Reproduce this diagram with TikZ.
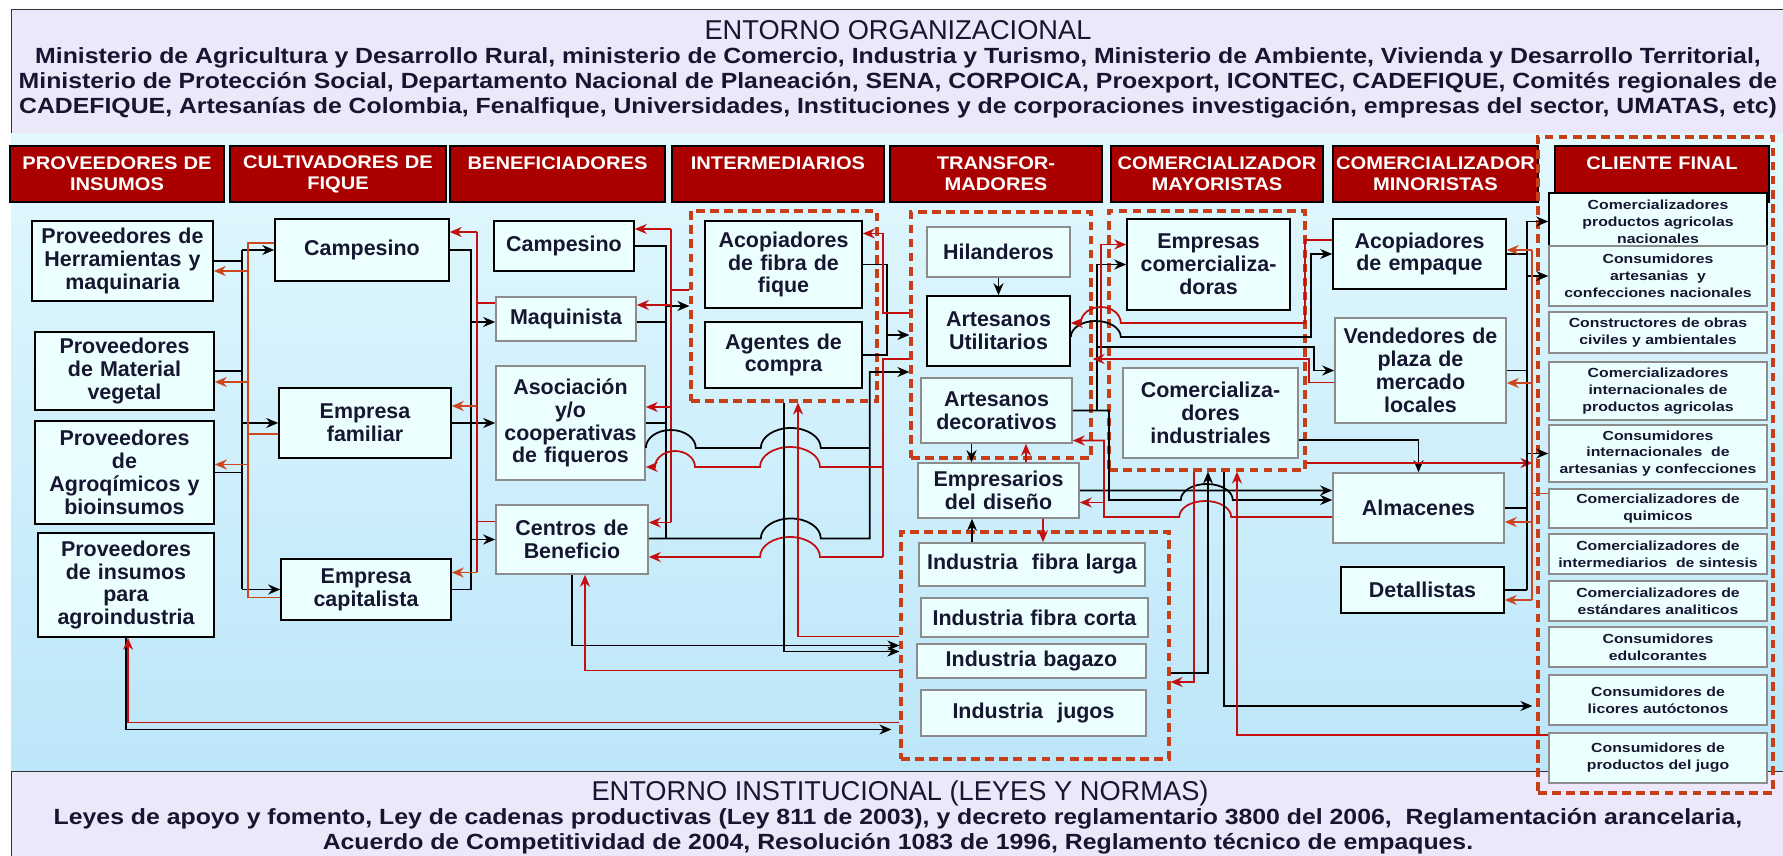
\documentclass[tikz,border=0pt]{standalone}
\usepackage{fontspec}
\setmainfont{Liberation Sans}
\newfontfamily\widefont[FakeStretch=1.2]{Liberation Sans}
\newfontfamily\hdrfont[FakeStretch=1.1]{Liberation Sans}
\newfontfamily\panelfont[FakeStretch=1.13]{Liberation Sans}
\usetikzlibrary{positioning,arrows.meta,calc}

\definecolor{panelbg}{RGB}{236,232,250}
\definecolor{skytop}{RGB}{226,248,253}
\definecolor{skybot}{RGB}{188,230,249}
\definecolor{hdrred}{RGB}{170,0,0}
\definecolor{boxbg}{RGB}{236,255,255}
\definecolor{dashred}{RGB}{200,62,22}
\definecolor{lnred}{RGB}{195,15,15}
\definecolor{lnorange}{RGB}{205,70,30}
\definecolor{txt}{RGB}{22,22,48}

\begin{document}
\begin{tikzpicture}[
  x=0.2mm, y=-0.2mm,
  box/.style  = {draw, line width=0.9pt, fill=boxbg, align=center, inner xsep=0pt, inner ysep=1pt,
                 text=txt, font=\fontsize{12.2}{13}\selectfont\bfseries},
  gbox/.style = {box, draw=black!45},
  fbox/.style = {gbox, text width=43.6mm, font=\widefont\fontsize{7.5}{9.6}\selectfont\bfseries},
  hdr/.style  = {draw=black, line width=1.6pt, fill=hdrred, text=white, align=center, inner xsep=0pt,
                 minimum height=11.2mm, font=\hdrfont\fontsize{10.4}{12}\selectfont\bfseries},
  grp/.style  = {draw=dashred, line width=1.8pt, dash pattern=on 5pt off 3pt, inner sep=0pt},
  ln/.style   = {line width=1pt, black},
  arr/.style  = {ln, -{Stealth[length=2.4mm,width=2mm]}},
  rln/.style  = {line width=1pt, lnred},
  rarr/.style = {rln, -{Stealth[length=2.4mm,width=2mm]}},
  oln/.style  = {line width=1pt, lnorange},
  oarr/.style = {oln, -{Stealth[length=2.4mm,width=2mm]}},
  ttl/.style  = {text=txt, font=\fontsize{15.5}{17}\selectfont},
  body/.style = {text=txt, align=center, font=\panelfont\fontsize{12.5}{14.2}\selectfont\bfseries}
]
\useasboundingbox (0,0) rectangle (1783,856);

% ================= backgrounds =================
\fill[white] (0,0) rectangle (1783,856);
\draw[fill=panelbg, draw=black!80] (11,9) rectangle (1800,134);
\shade[top color=skytop, bottom color=skybot] (11,134) rectangle (1783,771);
\draw[fill=panelbg, draw=black!80] (11,771) rectangle (1800,870);

\node[ttl]  (orgt) at (898,30) {ENTORNO ORGANIZACIONAL};
\node[body] (orgx) at (898,82.5) {Ministerio de Agricultura y Desarrollo Rural, ministerio de Comercio, Industria y Turismo, Ministerio de Ambiente, Vivienda y Desarrollo Territorial,\\
  Ministerio de Protección Social, Departamento Nacional de Planeación, SENA, CORPOICA, Proexport, ICONTEC, CADEFIQUE, Comités regionales de\\
  CADEFIQUE, Artesanías de Colombia, Fenalfique, Universidades, Instituciones y de corporaciones investigación, empresas del sector, UMATAS, etc)};
\node[ttl]  (inst) at (900,793) {ENTORNO INSTITUCIONAL (LEYES Y NORMAS)};
\node[body] (instx) at (898,831.5) {Leyes de apoyo y fomento, Ley de cadenas productivas (Ley 811 de 2003), y decreto reglamentario 3800 del 2006,\ \ Reglamentación arancelaria,\\
  Acuerdo de Competitividad de 2004, Resolución 1083 de 1996, Reglamento técnico de empaques.};

% ================= headers =================
\node[hdr, text width=42.8mm] (h1) at (117,174)    {PROVEEDORES DE\\INSUMOS};
\node[hdr, text width=43.2mm] (h2) at (338,174)    {CULTIVADORES DE\\FIQUE};
\node[hdr, text width=43mm]   (h3) at (557.5,174)  {BENEFICIADORES\\\mbox{}};
\node[hdr, text width=42.4mm] (h4) at (778,174)    {INTERMEDIARIOS\\\mbox{}};
\node[hdr, text width=42.4mm] (h5) at (996,174)    {TRANSFOR-\\MADORES};
\node[hdr, text width=42.4mm] (h6) at (1217,174)   {COMERCIALIZADOR\\MAYORISTAS};
\node[hdr, text width=41mm]   (h7) at (1435.5,174) {COMERCIALIZADOR\\MINORISTAS};

% ================= dashed groups =================
\node[grp, minimum width=37.2mm, minimum height=38mm]    (gi)   at (784,306)    {};
\node[grp, minimum width=36mm,   minimum height=49.2mm]  (gt)   at (1001,335)   {};
\node[grp, minimum width=53.6mm, minimum height=45.4mm]  (gind) at (1035,645.5) {};
\node[grp, minimum width=39.2mm, minimum height=51.8mm]  (gm)   at (1207,340.5) {};
\node[grp, minimum width=47mm,   minimum height=131.2mm] (gf)   at (1655.5,465) {};
\node[hdr, text width=42.8mm] (h8) at (1662,174)   {CLIENTE FINAL\\\mbox{}};

% ================= proveedores / cultivadores / beneficiadores =================
\node[box, text width=36.2mm, minimum height=16mm]   (p1) at (122.5,261)   {Proveedores de\\Herramientas y\\maquinaria};
\node[box, text width=35.8mm, minimum height=15.6mm] (p2) at (124.5,371)   {Proveedores\\de Material\\vegetal};
\node[box, text width=35.8mm, minimum height=20.6mm] (p3) at (124.5,472.5) {Proveedores\\de\\Agroqímicos y\\bioinsumos};
\node[box, text width=35.2mm, minimum height=20.8mm] (p4) at (126,585)     {Proveedores\\de insumos\\para\\agroindustria};

\node[box, text width=34.8mm, minimum height=12.4mm] (c1) at (362,250)   {Campesino};
\node[box, text width=34.4mm, minimum height=14mm]   (c2) at (365,423)   {Empresa\\familiar};
\node[box, text width=34mm,   minimum height=12.2mm] (c3) at (366,589.5) {Empresa\\capitalista};

\node[box,  text width=28mm,   minimum height=10mm]   (b1) at (564,246)   {Campesino};
\node[gbox, text width=28mm,   minimum height=8.8mm]  (b2) at (566,319)   {Maquinista};
\node[gbox, text width=29.8mm, minimum height=22.8mm] (b3) at (570.5,423) {Asociación\\y/o\\cooperativas\\de fiqueros};
\node[gbox, text width=30.4mm, minimum height=13.8mm] (b4) at (572,539.5) {Centros de\\Beneficio};

% ================= intermediarios / transformadores =================
\node[box, text width=31.4mm, minimum height=17.4mm] (i1) at (783.5,264.5) {Acopiadores\\de fibra de\\fique};
\node[box, text width=31.4mm, minimum height=13.2mm] (i2) at (783.5,355)   {Agentes de\\compra};

\node[gbox, text width=28.6mm, minimum height=10mm]  (t1) at (998.5,252)   {Hilanderos};
\node[box,  text width=28.6mm, minimum height=14mm]  (t2) at (998.5,331)   {Artesanos\\Utilitarios};
\node[gbox, text width=30.2mm, minimum height=13mm]  (t3) at (996.5,410.5) {Artesanos\\decorativos};
\node[gbox, text width=32.2mm, minimum height=11mm]  (t4) at (998.5,490.5) {Empresarios\\del diseño};
\node[gbox, text width=45.2mm, minimum height=8.6mm] (t5) at (1032,564.5)  {Industria\ \ fibra larga};
\node[gbox, text width=45.4mm, minimum height=7.8mm] (t6) at (1034.5,617.5) {Industria fibra corta};
\node[gbox, text width=45.8mm, minimum height=6.8mm] (t7) at (1031.5,661)  {Industria bagazo};
\node[gbox, text width=45mm,   minimum height=9.2mm] (t8) at (1033.5,713)  {Industria\ \ jugos};

% ================= comercializadores =================
\node[box,  text width=32.6mm, minimum height=18.2mm] (m1) at (1208.5,264.5) {Empresas\\comercializa-\\doras};
\node[gbox, text width=35mm,   minimum height=18mm]   (m2) at (1210.5,413)   {Comercializa-\\dores\\industriales};

\node[box,  text width=34.6mm, minimum height=14mm]  (n1) at (1419.5,254)   {Acopiadores\\de empaque};
\node[gbox, text width=34.2mm, minimum height=21mm]  (n2) at (1420.5,370.5) {Vendedores de\\plaza de\\mercado\\locales};
\node[gbox, text width=34.2mm, minimum height=14mm]  (n3) at (1418.5,508)   {Almacenes};
\node[box,  text width=32.6mm, minimum height=9.2mm] (n4) at (1422.5,590)   {Detallistas};

% ================= cliente final =================
\node[fbox, draw=black, minimum height=11.4mm] (f1) at (1658,221.5) {Comercializadores\\productos agricolas\\nacionales};
\node[fbox, minimum height=12mm]   (f2)  at (1658,276)   {Consumidores\\artesanias\ \ y\\confecciones nacionales};
\node[fbox, minimum height=8.2mm]  (f3)  at (1658,332.5) {Constructores de obras\\civiles y ambientales};
\node[fbox, minimum height=11.6mm] (f4)  at (1658,391)   {Comercializadores\\internacionales de\\productos agricolas};
\node[fbox, minimum height=11.4mm] (f5)  at (1658,453.5) {Consumidores\\internacionales\ \ de\\artesanias y confecciones};
\node[fbox, minimum height=7.8mm]  (f6)  at (1658,508.5) {Comercializadores de\\quimicos};
\node[fbox, minimum height=8mm]    (f7)  at (1658,554)   {Comercializadores de\\intermediarios\ \ de sintesis};
\node[fbox, minimum height=8mm]    (f8)  at (1658,601)   {Comercializadores de\\estándares analiticos};
\node[fbox, minimum height=8mm]    (f9)  at (1658,647)   {Consumidores\\edulcorantes};
\node[fbox, minimum height=10mm]   (f10) at (1658,700)   {Consumidores de\\licores autóctonos};
\node[fbox, minimum height=10mm]   (f11) at (1658,758)   {Consumidores de\\productos del jugo};

% bus lines
\coordinate (ka) at (242,0);  \coordinate (ra) at (248,0);
\coordinate (kb) at (471,0);  \coordinate (rb) at (477,0);
\coordinate (kc) at (666,0);  \coordinate (rc) at (671,0);
\coordinate (kd) at (887,0);  \coordinate (rd) at (883,0);
\coordinate (kf) at (1097,0); \coordinate (rf) at (1101,0);
\coordinate (kg) at (1109,0); \coordinate (rg) at (1104,0);
\coordinate (ki) at (1311,0); \coordinate (ri) at (1305,0);
\coordinate (kh) at (1314,0); \coordinate (rh) at (1309,0);
\coordinate (kj) at (1527,0); \coordinate (rj) at (1532,0);

% ---- proveedores <-> cultivadores
\draw[ln] (p1.east) -- (ka |- p1.east);
\draw[ln] (p2.east) -- (ka |- p2.east);
\draw[ln] (p3.east) -- (ka |- p3.east);
\draw[ln] (ka |- c1.west) -- (ka |- c3.west);
\draw[arr] (ka |- c1.west) -- (c1.west);
\draw[arr] (ka |- c2.west) -- (c2.west);
\draw[arr] (ka |- c3.west) -- (c3.west);
\draw[oln] ($(c1.west)+(0,-7)$) -- ($(ra |- c1.west)+(0,-7)$) -- ($(ra |- c3.west)+(0,8)$) -- ($(c3.west)+(0,8)$);
\draw[oln] ($(c2.west)+(0,11)$) -- ($(ra |- c2.west)+(0,11)$);
\draw[oarr] ($(ra |- p1.east)+(0,10)$) -- ($(p1.east)+(0,10)$);
\draw[oarr] ($(ra |- p2.east)+(0,11)$) -- ($(p2.east)+(0,11)$);
\draw[oarr] ($(ra |- p3.east)+(0,-8)$) -- ($(p3.east)+(0,-8)$);

% ---- cultivadores <-> beneficiadores
\draw[ln] (c1.east) -- (kb |- c1.east) -- (kb |- c3.east) -- (c3.east);
\draw[arr] (c2.east) -- (b3.west);
\draw[arr] ($(kb |- b2.west)+(0,3)$) -- ($(b2.west)+(0,3)$);
\draw[arr] (kb |- b4.west) -- (b4.west);
\draw[rln] ($(rb |- c1.east)+(0,-18)$) -- ($(rb |- c3.east)+(0,-17)$);
\draw[rln] ($(b2.west)+(0,-16)$) -- ($(rb |- b2.west)+(0,-16)$);
\draw[rln] ($(b4.west)+(0,-18)$) -- ($(rb |- b4.west)+(0,-18)$);
\draw[rarr] ($(rb |- c1.east)+(0,-18)$) -- ($(c1.east)+(0,-18)$);
\draw[oarr] ($(rb |- c2.east)+(0,-17)$) -- ($(c2.east)+(0,-17)$);
\draw[oarr] ($(rb |- c3.east)+(0,-17)$) -- ($(c3.east)+(0,-17)$);

% ---- beneficiadores <-> intermediarios
\draw[ln] (b1.east) -- (kc |- b1.east) -- ($(kc |- b4.east)+(0,-1)$);
\draw[ln] ($(b2.east)+(0,3)$) -- ($(kc |- b2.east)+(0,3)$);
\draw[ln] (b3.east) -- (kc |- b3.east);
\draw[arr] (kc |- gi.west) -- (gi.west);
\draw[rln] ($(rc |- b1.east)+(0,-17)$) -- ($(rc |- b4.east)+(0,-17)$);
\draw[rln] ($(gi.west)+(0,-16)$) -- ($(rc |- gi.west)+(0,-16)$);
\draw[rarr] ($(rc |- b1.east)+(0,-17)$) -- ($(b1.east)+(0,-17)$);
\draw[rarr] ($(rc |- b2.east)+(0,-14)$) -- ($(b2.east)+(0,-14)$);
\draw[rarr] ($(rc |- b3.east)+(0,-16)$) -- ($(b3.east)+(0,-16)$);
\draw[rarr] ($(rc |- b4.east)+(0,-17)$) -- ($(b4.east)+(0,-17)$);

% ---- intermediarios <-> transformadores
\draw[ln] (i1.east) -- (kd |- i1.east) -- (kd |- i2.east) -- (i2.east);
\draw[arr] (kd |- gt.west) -- (gt.west);
\draw[rarr] ($(gt.west)+(0,-22)$) -- ($(rd |- gt.west)+(0,-22)$) -- ($(rd |- i1.east)+(0,-31)$) -- ($(i1.east)+(0,-31)$);

% ---- beneficiadores <-> transformadores (line jumps)
\draw[arr] ($(b3.east)+(0,25)$) arc[start angle=180,end angle=360,x radius=25,y radius=18] -- ++(65,0)
  arc[start angle=180,end angle=360,x radius=30,y radius=20] -- ++(49,0) |- ($(gt.west)+(0,37)$);
\draw[ln] ($(b4.east)+(0,-1)$) -- ++(112,0) arc[start angle=180,end angle=360,x radius=30,y radius=20] -- ++(49,0) -- ++(0,-90);
\draw[rln] ($(gt.west)+(0,24)$) -- ($(rd |- gt.west)+(0,24)$) -- ($(rd |- b4.east)+(0,17.5)$);
\draw[rarr] ($(rd |- b3.east)+(0,44)$) -- ++(-63,0) arc[start angle=0,end angle=-180,x radius=30,y radius=20] -- ++(-65,0)
  arc[start angle=0,end angle=-180,x radius=20,y radius=16] -- ($(b3.east)+(0,44)$);
\draw[rarr] ($(rd |- b4.east)+(0,17.5)$) -- ++(-63,0) arc[start angle=0,end angle=-180,x radius=30,y radius=20] -- ($(b4.east)+(0,17.5)$);

% ---- towards the industries
\draw[arr] (gi.south) |- ($(gind.west)+(0,6)$);
\draw[rarr] ($(gind.west)+(0,-9)$) -| ($(gi.south)+(14,0)$);
\draw[arr] (b4.south) |- (gind.west);
\draw[rarr] ($(gind.west)+(0,25)$) -| ($(b4.south)+(13,0)$);
\draw[arr] (p4.south) |- ($(gind.west)+(-8,84)$);
\draw[rarr] ($(gind.west)+(0,77)$) -| ($(p4.south)+(2,0)$);

% ---- inside transformadores
\draw[arr] (t1) -- (t2);
\draw[arr] ($(t3.south)+(-25,0)$) -- ($(t4.north)+(-27,0)$);
\draw[rarr] ($(t4.north)+(27.5,0)$) -- ($(t3.south)+(29.5,0)$);
\draw[arr] ($(t5.north)+(-60,0)$) -- ($(t4.south)+(-26.5,0)$);
\draw[rarr] ($(t4.south)+(44.5,0)$) -- ($(t5.north)+(11,0)$);

% ---- transformadores <-> comercializadores
\draw[arr] (t3.east) -- (kf |- t3.east) |- (m1.west);
\draw[arr] ($(kf |- t2.east)+(0,16)$) -| (kh |- n2.west) -- (n2.west);
\draw[rarr] ($(n2.west)+(0,12)$) -- ($(rh |- n2.west)+(0,12)$) |- ($(rf |- gt.east)+(0,24)$) |- ($(m1.west)+(0,-20)$);
\draw[rarr] ($(rf |- gt.east)+(0,24)$) -- ($(gt.east)+(0,24)$);
\draw[arr] ($(t2.east)+(0,6)$) arc[start angle=180,end angle=360,x radius=25,y radius=16] -| (ki |- n1.west) -- (n1.west);
\draw[rarr] ($(n1.west)+(0,-14)$) -- ($(ri |- n1.west)+(0,-14)$) |- ($(t2.east)+(50,-8)$)
  arc[start angle=0,end angle=-180,x radius=20,y radius=16] -- ($(t2.east)+(0,-8)$);
\draw[arr] (t4.east) -- ($(n3.west)+(0,-17.5)$);
\draw[arr] (t3.east) -- (kg |- t3.east) |- ($(t4.east)+(101,9.5)$)
  arc[start angle=180,end angle=360,x radius=26,y radius=16] -- ($(n3.west)+(0,-8)$);
\draw[rarr] ($(n3.west)+(0,9)$) -- ++(-101,0) arc[start angle=0,end angle=-180,x radius=26,y radius=16]
  -- ($(rg |- n3.west)+(0,9)$) |- ($(t3.east)+(0,30)$);
\draw[rarr] ($(rg |- t4.east)+(0,12)$) -- ($(t4.east)+(0,12)$);

% ---- under comercializadores industriales
\draw[rarr] ($(gm.south)+(-13,0)$) |- ($(gind.east)+(0,36.5)$);
\draw[arr] ($(gind.east)+(0,27.5)$) -| ($(gm.south)+(1,0)$);
\draw[arr] ($(gm.south)+(17,0)$) |- ($(gf.west)+(-4,241)$);
\draw[rarr] ($(f11.west)+(0,-23)$) -| ($(gm.south)+(30,0)$);
\draw[arr] ($(m2.east)+(0,27)$) -| (n3.north);
\draw[rarr] ($(gm.east)+(0,122.5)$) -- ($(gf.west)+(-4,-2)$);

% ---- minoristas <-> cliente final
\draw[ln] (n1.east) -- (kj |- n1.east);
\draw[ln] (n2.east) -- (kj |- n2.east);
\draw[ln] (n3.east) -- (kj |- n3.east);
\draw[ln] (n4.east) -- (kj |- n4.east);
\draw[ln] (kj |- f1.west) -- (kj |- n4.east);
\draw[arr] (kj |- f1.west) -- (f1.west);
\draw[arr] (kj |- f2.west) -- (f2.west);
\draw[arr] (kj |- f5.west) -- (f5.west);
\draw[oln] ($(rj |- n1.east)+(0,-4)$) -- ($(rj |- n4.east)+(0,10)$);
\draw[oln] ($(f6.west)+(0,-15)$) -- ($(rj |- f6.west)+(0,-15)$);
\draw[oarr] ($(rj |- n1.east)+(0,-4)$) -- ($(n1.east)+(0,-4)$);
\draw[oarr] ($(rj |- n2.east)+(0,12.5)$) -- ($(n2.east)+(0,12.5)$);
\draw[oarr] ($(rj |- n3.east)+(0,14)$) -- ($(n3.east)+(0,14)$);
\draw[oarr] ($(rj |- n4.east)+(0,10)$) -- ($(n4.east)+(0,10)$);

\end{tikzpicture}
\end{document}
